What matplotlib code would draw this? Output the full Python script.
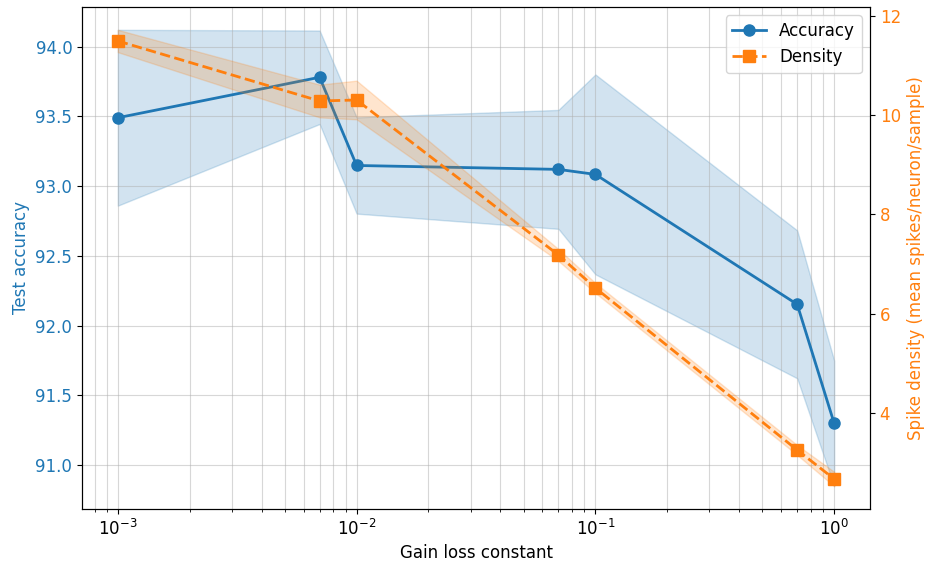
import matplotlib
matplotlib.use("Agg")
import matplotlib.pyplot as plt
import numpy as np

gain = [0.001, 0.007, 0.01, 0.07, 0.1, 0.7, 1.0]
acc_mean = [93.49, 93.78, 93.148, 93.12, 93.084, 92.153, 91.30]
acc_std = [0.63, 0.335, 0.345, 0.426, 0.716, 0.53, 0.45]
dens_mean = [11.496, 10.287, 10.307, 7.184, 6.519, 3.254, 2.67]
dens_std = [0.225, 0.33, 0.39, 0.12, 0.10, 0.10, 0.145]

c_acc = "#1f77b4"
c_den = "#ff7f0e"

plt.rcParams["font.size"] = 12

gain_a = np.array(gain)
am = np.array(acc_mean); asd = np.array(acc_std)
dm = np.array(dens_mean); dsd = np.array(dens_std)

fig, ax = plt.subplots(figsize=(9.25, 5.63), dpi=100)
fig.subplots_adjust(left=82/925, right=870/925, top=1-7/563, bottom=1-509/563)

ax.set_xscale("log")
ax.fill_between(gain_a, am - asd, am + asd, color=c_acc, alpha=0.2)
l1, = ax.plot(gain_a, am, "-o", color=c_acc, lw=2, ms=8, label="Accuracy")
ax.set_xlabel("Gain loss constant")
ax.set_ylabel("Test accuracy", color=c_acc)
ax.tick_params(axis="y", labelcolor=c_acc)
ax.grid(True, which="both", alpha=0.5)

ax2 = ax.twinx()
ax2.fill_between(gain_a, dm - dsd, dm + dsd, color=c_den, alpha=0.2)
l2, = ax2.plot(gain_a, dm, "--s", color=c_den, lw=2, ms=8, label="Density")
ax2.set_ylabel("Spike density (mean spikes/neuron/sample)", color=c_den)
ax2.tick_params(axis="y", labelcolor=c_den)

ax2.legend([l1, l2], ["Accuracy", "Density"], loc="upper right")

fig.savefig("out.png", dpi=100)
